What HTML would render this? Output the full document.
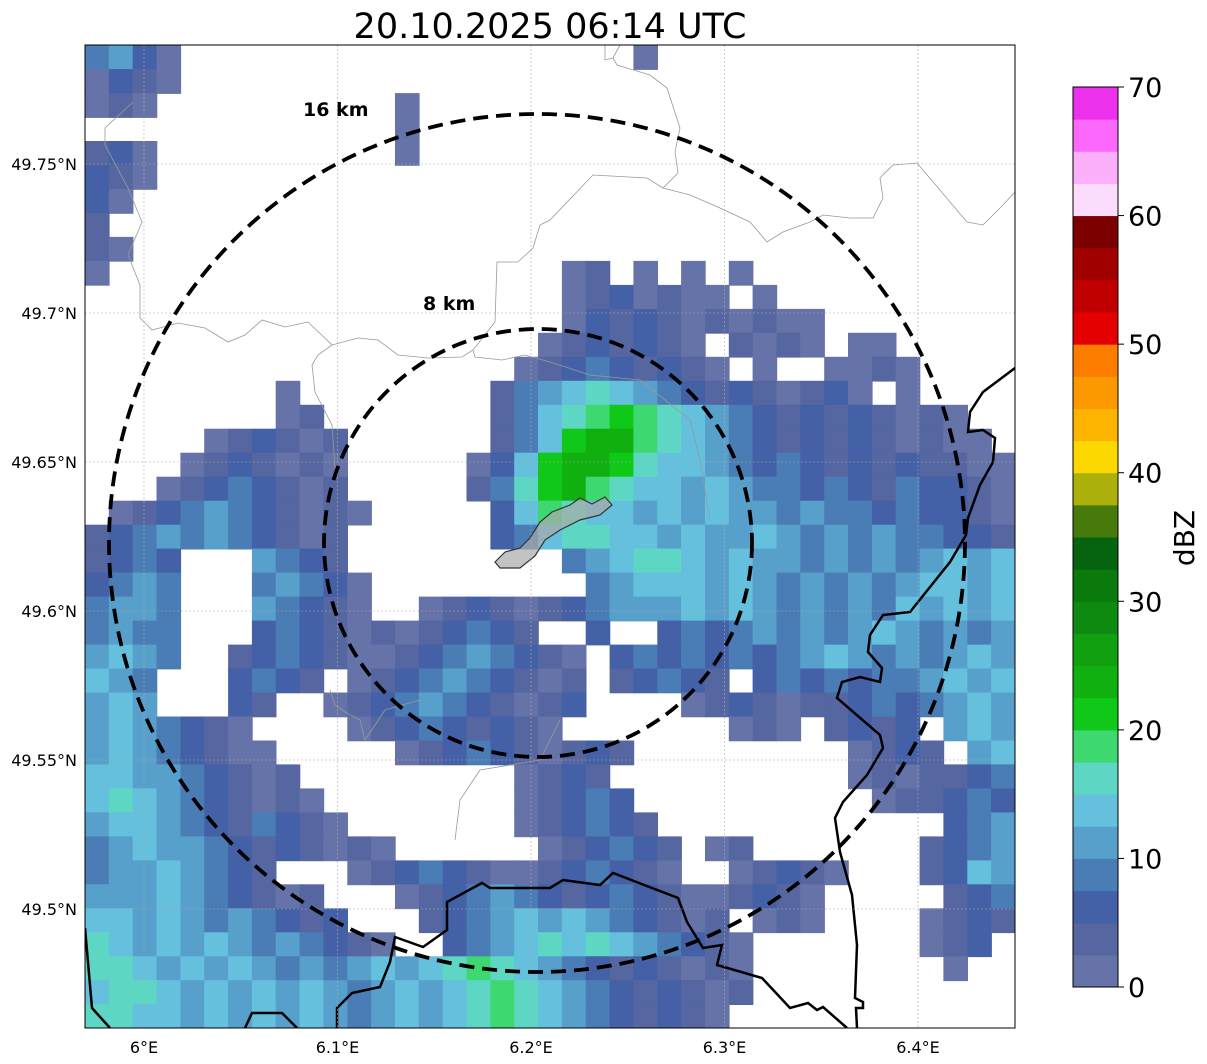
<!DOCTYPE html>
<html><head><meta charset="utf-8"><style>
body{margin:0;background:#fff;}
svg{display:block;font-family:"DejaVu Sans","Liberation Sans",sans-serif;}
</style></head><body>
<svg id="chart" width="1207" height="1064" viewBox="0 0 1207 1064">
<defs><clipPath id="plotclip"><rect x="85" y="45" width="930" height="983"/></clipPath></defs>
<text x="550" y="38" font-size="35" text-anchor="middle">20.10.2025 06:14 UTC</text>
<g id="data" clip-path="url(#plotclip)"></g>
<g id="geo" clip-path="url(#plotclip)" fill="none">
<path stroke="#999" stroke-width="0.8" d="M133,102 L105,128 L105,145 L128,188 L142,222 L128,255 L140,285 L140,318 L152,330 L178,323 L205,328 L228,342 L245,335 L262,320 L285,327 L308,322 L332,345 L318,355 L312,365 L315,392 L332,425 L335,468"/>
<path stroke="#999" stroke-width="0.8" d="M332,345 L358,338 L378,340 L398,355 L428,358 L462,357 L473,350 L495,322 L497,262 L518,262 L533,248 L540,225 L550,220 L593,175 L647,178 L663,188 L678,173 L675,152 L680,128 L667,88 L650,75 L617,65 L613,58 L620,45"/>
<path stroke="#999" stroke-width="0.8" d="M663,188 L690,195 L720,208 L750,222 L767,242 L783,232 L810,222 L823,215 L850,218 L873,218 L883,198 L880,178 L893,165 L917,163 L967,222 L983,225 L1000,208 L1015,192"/>
<path stroke="#999" stroke-width="0.8" d="M473,350 L475,357 L502,360 L525,355 L550,362 L590,375 L640,380 L690,420 L700,460 L710,520"/>
<path stroke="#999" stroke-width="0.8" d="M605,45 L605,60 L613,58"/>
<path stroke="#999" stroke-width="0.8" d="M330,690 L335,705 L345,712 L360,720 L365,740 L385,710 L420,700 M560,720 L540,760 L480,770 L460,800 L455,840"/>
<path stroke="#000" stroke-width="2.5" d="M1015,368 L983,392 L970,412 L968,432 L983,430 L995,438 L993,462 L980,485 L968,518 L966,535 L950,562 L910,612 L883,615 L870,635 L868,652 L882,668 L880,682 L860,677 L842,682 L837,698 L880,735 L883,748 L867,775 L843,802 L835,818 L840,852 L852,895 L857,945 L855,998 L863,1002 L863,1008 L856,1008 L857,1028"/>
<path stroke="#000" stroke-width="2.5" d="M847,1028 L823,1007 L817,1010 L808,1003 L790,1008 L762,978 L717,965 L722,945 L703,948 L687,922 L678,898 L613,873 L600,885 L563,880 L550,888 L490,888 L482,883 L447,902 L447,930 L423,947 L395,937 L390,962 L380,987 L352,993 L337,1008 L337,1028"/>
<path stroke="#000" stroke-width="2.5" d="M245,1028 L252,1013 L282,1013 L297,1028 M85,928 L92,1008 L110,1028"/>
<path fill="rgba(170,170,170,0.7)" stroke="#333" stroke-width="1.2" d="M495,562 L505,552 L520,548 L530,538 L540,522 L552,512 L570,505 L580,498 L592,504 L605,497 L612,505 L600,515 L580,520 L560,530 L545,540 L535,556 L520,568 L500,568 Z"/>
</g>
<g id="grid"></g>
<g id="rings" fill="none" stroke="#000" stroke-width="3.8" stroke-dasharray="15 8">
<ellipse cx="537" cy="543" rx="428" ry="429"/>
<ellipse cx="538" cy="543" rx="214" ry="214"/>
</g>
<text x="303" y="116" font-size="19" font-weight="bold">16 km</text>
<text x="423" y="310" font-size="19" font-weight="bold">8 km</text>
<rect x="85" y="45" width="930" height="983" fill="none" stroke="#000" stroke-width="1"/>
<g id="axes"></g>
<g id="cbar"></g>
<text transform="translate(1194,538) rotate(-90)" font-size="28" text-anchor="middle">dBZ</text>
</svg>
<script>
const dbzLevels = [0,2.5,5,7.5,10,12.5,15,17.5,20,22.5,25,27.5,30,32.5,35,37.5,40,42.5,45,47.5,50,52.5,55,57.5,60,62.5,65,67.5];
const levelColors = ["#6673a8","#5566a0","#4460a6","#4a7db5","#58a0cc","#64c0dc","#5ed6c4","#3ed870","#10c818","#10b010","#10a010","#0e8a10","#0a7a0c","#066410","#467a0a","#acb00a","#fcd800","#fcb400","#fc9800","#fc7c00","#e40000","#c00000","#a00000","#7c0000","#fcdcfc","#fcb0fc","#fc68fc","#ec30ec"];
const colorbarTicks = [0,10,20,30,40,50,60,70];
const lonTicks = [6.0,6.1,6.2,6.3,6.4];
const lonTickLabels = ["6°E","6.1°E","6.2°E","6.3°E","6.4°E"];
const latTicks = [49.75,49.7,49.65,49.6,49.55,49.5];
const latTickLabels = ["49.75°N","49.7°N","49.65°N","49.6°N","49.55°N","49.5°N"];
// reflectivity grid: each row = list of [startColumn, level-index digits]
const reflectivityRows = [
[[0,"3420"],[23,"0"]],
[[0,"0210"]],
[[0,"010"],[13,"0"]],
[[13,"0"]],
[[0,"120"],[13,"0"]],
[[0,"210"]],
[[0,"20"]],
[[0,"1"]],
[[0,"10"]],
[[0,"0"],[20,"01"],[23,"0"],[25,"0"],[27,"0"]],
[[20,"0120100"],[28,"0"]],
[[20,"0212101"],[27,"0100"]],
[[19,"0121210"],[27,"1010"],[32,"00"]],
[[18,"012321210"],[28,"0"],[31,"0010"]],
[[8,"0"],[17,"1345654321210120"],[34,"0"]],
[[8,"01"],[17,"13567876543212121010"]],
[[5,"012101"],[17,"135899765432121210100"]],
[[4,"0121010"],[16,"02589986554323212121100"]],
[[3,"01232101"],[16,"13689765545433232132210"]],
[[1,"01234321010"],[17,"2576554545443433232210"]],
[[0,"12343432101"],[17,"2356655454454343433221"]],
[[0,"1232"],[7,"4321"],[20,"3456654544343434545"]],
[[0,"2343"],[7,"3432"],[11,"0"],[21,"345554543434345545"]],
[[0,"3443"],[7,"43210"],[14,"01210"],[19,"12344454543434354545"]],
[[0,"3433"],[7,"232101"],[13,"012321"],[21,"2"],[24,"232343434543434"]],
[[0,"4543"],[6,"123210"],[12,"012343210"],[22,"23232323454343454"]],
[[0,"543"],[6,"2321"],[11,"0123432101"],[22,"12321"],[28,"23232334545"]],
[[0,"454"],[6,"21"],[10,"01234321012"],[25,"012101"],[31,"12323454"]],
[[0,"4543210"],[11,"012321210"],[27,"010"],[31,"1212"],[36,"454"]],
[[0,"45432100"],[13,"0123210"],[19,"0121"],[32,"0121"],[37,"45"]],
[[0,"554432101"],[18,"0121"],[32,"0101"],[36,"123"]],
[[0,"5654321010"],[18,"01232"],[33,"01"],[35,"1232"]],
[[0,"45543213210"],[18,"012321"],[36,"234"]],
[[0,"3454432121010"],[19,"012321"],[26,"01"],[35,"1234"]],
[[0,"34454321"],[11,"0123210"],[18,"0123210"],[27,"01210"],[35,"1254"]],
[[0,"4445432101"],[13,"0123432123210"],[26,"01210"],[36,"123"]],
[[0,"55454343212"],[14,"1234545432101"],[28,"010"],[35,"0121"]],
[[0,"6545454343210"],[15,"2345656543210"],[35,"012"]],
[[0,"6654545434345456765432121010"],[36,"0"]],
[[0,"5665454545434545676543212101"]],
[[0,"665545454543454567654321210"]]
];
const NS="http://www.w3.org/2000/svg";
const lonMin=5.9695, lonMax=6.4501, latMax=49.7899, latMin=49.46;
function xScale(lon){return 144+(lon-6.0)*1935;}
function yScale(lat){return 164+(49.75-lat)*2980;}
function cbScale(v){return 987-(v/70)*900;}
const nCols=39, nRows=reflectivityRows.length;
const dLon=(lonMax-lonMin)/nCols, dLat=(latMax-latMin)/nRows;
const dataG=document.getElementById('data');
reflectivityRows.forEach((row,r)=>{
  row.forEach(seg=>{
    const start=seg[0], digits=seg[1];
    for(let k=0;k<digits.length;k++){
      const c=start+k; const lvl=+digits[k];
      const x0=xScale(lonMin+c*dLon), x1=xScale(lonMin+(c+1)*dLon);
      const y0=yScale(latMax-r*dLat), y1=yScale(latMax-(r+1)*dLat);
      const rc=document.createElementNS(NS,'rect');
      rc.setAttribute('x',x0.toFixed(1));rc.setAttribute('y',y0.toFixed(1));
      rc.setAttribute('width',(x1-x0+0.8).toFixed(1));rc.setAttribute('height',(y1-y0+0.8).toFixed(1));
      rc.setAttribute('fill',levelColors[lvl]);
      
      
      dataG.appendChild(rc);
    }
  });
});
const gridG=document.getElementById('grid'), axesG=document.getElementById('axes');
lonTicks.forEach((lon,i)=>{
  const x=xScale(lon);
  const l=document.createElementNS(NS,'line');
  l.setAttribute('x1',x);l.setAttribute('x2',x);l.setAttribute('y1',45);l.setAttribute('y2',1028);
  l.setAttribute('stroke','#aaa');l.setAttribute('stroke-width','0.6');l.setAttribute('stroke-dasharray','2 2');
  
  
  gridG.appendChild(l);
  const t=document.createElementNS(NS,'text');
  t.setAttribute('x',x);t.setAttribute('y',1053);t.setAttribute('font-size','16');t.setAttribute('text-anchor','middle');
  t.textContent=lonTickLabels[i];
  
  
  axesG.appendChild(t);
});
latTicks.forEach((lat,i)=>{
  const y=yScale(lat);
  const l=document.createElementNS(NS,'line');
  l.setAttribute('x1',85);l.setAttribute('x2',1015);l.setAttribute('y1',y);l.setAttribute('y2',y);
  l.setAttribute('stroke','#aaa');l.setAttribute('stroke-width','0.6');l.setAttribute('stroke-dasharray','2 2');
  
  
  gridG.appendChild(l);
  const t=document.createElementNS(NS,'text');
  t.setAttribute('x',77);t.setAttribute('y',y+6);t.setAttribute('font-size','16');t.setAttribute('text-anchor','end');
  t.textContent=latTickLabels[i];
  
  
  axesG.appendChild(t);
});
const cbG=document.getElementById('cbar');
dbzLevels.forEach((v,i)=>{
  const y0=cbScale(v+2.5), y1=cbScale(v);
  const rc=document.createElementNS(NS,'rect');
  rc.setAttribute('x',1073);rc.setAttribute('y',y0);rc.setAttribute('width',45);rc.setAttribute('height',y1-y0+0.5);
  rc.setAttribute('fill',levelColors[i]);
  
  
  cbG.appendChild(rc);
});
const fr=document.createElementNS(NS,'rect');
fr.setAttribute('x',1073);fr.setAttribute('y',87);fr.setAttribute('width',45);fr.setAttribute('height',900);
fr.setAttribute('fill','none');fr.setAttribute('stroke','#000');fr.setAttribute('stroke-width','1');


cbG.appendChild(fr);
colorbarTicks.forEach(v=>{
  const y=cbScale(v);
  const l=document.createElementNS(NS,'line');
  l.setAttribute('x1',1118);l.setAttribute('x2',1124);l.setAttribute('y1',y);l.setAttribute('y2',y);l.setAttribute('stroke','#000');
  
  
  cbG.appendChild(l);
  const t=document.createElementNS(NS,'text');
  t.setAttribute('x',1128);t.setAttribute('y',y+10);t.setAttribute('font-size','27');
  t.textContent=String(v);
  
  
  cbG.appendChild(t);
});
</script>
</body></html>
